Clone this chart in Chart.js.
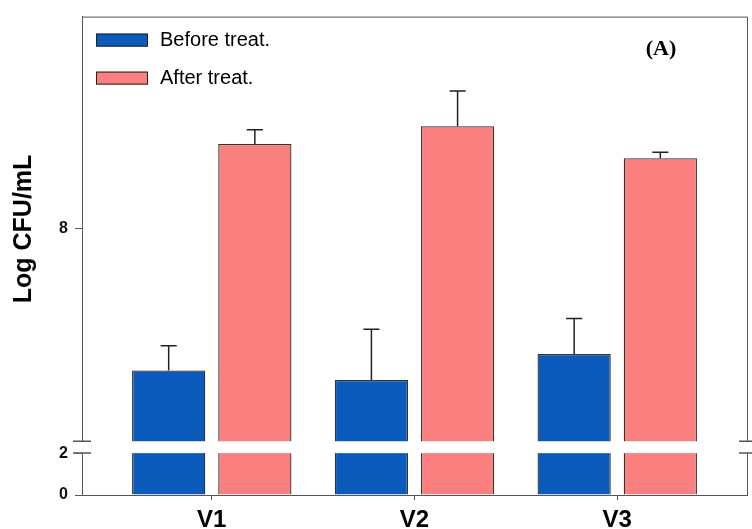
<!DOCTYPE html>
<html>
<head>
<meta charset="utf-8">
<script src="https://cdn.jsdelivr.net/npm/chart.js@4.4.1/dist/chart.umd.min.js"></script>
<style>
  html, body { margin: 0; padding: 0; background: #fff; }
</style>
</head>
<body>
<canvas id="cfuChart" width="752" height="529"></canvas>
<script>
// data (Log CFU/mL)
const categories = ['V1', 'V2', 'V3'];
const beforeTreat = [6.80, 6.72, 6.94];
const beforeErr = [0.21, 0.43, 0.30];
const afterTreat = [8.72, 8.87, 8.60];
const afterErr = [0.12, 0.30, 0.05];
const upperTicks = [8];
const lowerTicks = [0, 2];

const blue = '#0b5bbd';
const pink = '#fa8080';
const axisColor = '#555';

const toPoints = vals => vals.map((v, i) => ({ x: i, y: v }));

// the y axis is broken: same bars drawn on an upper and a lower scale
function barSet(label, vals, errs, color, axis, stack) {
  return {
    label: label,
    data: toPoints(vals),
    errors: errs,
    yAxisID: axis,
    stack: stack,
    backgroundColor: color,
    borderColor: '#333',
    borderWidth: 1.3,
    clip: 0
  };
}

const fixedWidth = w => scale => { scale.width = w; };

// error bars, frame, axis break, legend and panel tag
const decorations = {
  id: 'decorations',
  afterDatasetsDraw(chart) {
    const { ctx, chartArea: a, scales } = chart;
    ctx.save();

    // error whiskers (upper half only)
    ctx.strokeStyle = '#222';
    ctx.lineWidth = 1.5;
    chart.data.datasets.forEach((ds, di) => {
      if (ds.yAxisID !== 'yTop') return;
      const yScale = scales[ds.yAxisID];
      chart.getDatasetMeta(di).data.forEach((bar, i) => {
        const yErr = yScale.getPixelForValue(ds.data[i].y + ds.errors[i]);
        const cap = bar.width * 0.11;
        ctx.beginPath();
        ctx.moveTo(bar.x, bar.y);
        ctx.lineTo(bar.x, yErr);
        ctx.moveTo(bar.x - cap, yErr);
        ctx.lineTo(bar.x + cap, yErr);
        ctx.stroke();
      });
    });

    // top and right frame
    ctx.strokeStyle = axisColor;
    ctx.lineWidth = 1;
    ctx.beginPath();
    ctx.moveTo(a.left, a.top + 0.5);
    ctx.lineTo(a.right + 0.5, a.top + 0.5);
    ctx.lineTo(a.right + 0.5, a.bottom);
    ctx.stroke();

    // axis break
    const yB1 = scales.yTop.bottom;
    const yB2 = scales.yBot.getPixelForValue(2);
    ctx.fillStyle = '#fff';
    ctx.fillRect(a.left - 9, yB1, a.right - a.left + 20, yB2 - yB1);
    ctx.lineWidth = 1.5;
    ctx.beginPath();
    [yB1, yB2].forEach(y => {
      ctx.moveTo(a.left - 9, y); ctx.lineTo(a.left + 9, y);
      ctx.moveTo(a.right - 8, y); ctx.lineTo(a.right + 6, y);
    });
    ctx.stroke();

    // legend
    const items = chart.data.datasets.filter(ds => ds.yAxisID === 'yTop');
    ctx.font = '20px "Liberation Sans", Arial, sans-serif';
    ctx.textBaseline = 'middle';
    ctx.textAlign = 'left';
    items.forEach((ds, k) => {
      const x = a.left + 14, y = a.top + 17 + k * 38;
      ctx.fillStyle = ds.backgroundColor;
      ctx.fillRect(x, y, 52, 13);
      ctx.strokeStyle = '#222';
      ctx.lineWidth = 1;
      ctx.strokeRect(x + 0.5, y + 0.5, 51, 12);
      ctx.fillStyle = '#000';
      ctx.fillText(ds.label, x + 64, y + 7);
    });

    // panel tag
    ctx.font = 'bold 22px "Liberation Serif", "Times New Roman", serif';
    ctx.textAlign = 'center';
    ctx.fillStyle = '#000';
    ctx.fillText('(A)', a.right - 86, a.top + 33);

    ctx.restore();
  }
};

const tickFont = { family: '"Liberation Sans", Arial, sans-serif', size: 16, weight: 'bold' };

new Chart(document.getElementById('cfuChart'), {
  type: 'bar',
  data: {
    datasets: [
      barSet('Before treat.', beforeTreat, beforeErr, blue, 'yTop', 'before'),
      barSet('After treat.', afterTreat, afterErr, pink, 'yTop', 'after'),
      barSet('Before treat.', beforeTreat, beforeErr, blue, 'yBot', 'before'),
      barSet('After treat.', afterTreat, afterErr, pink, 'yBot', 'after')
    ]
  },
  options: {
    responsive: false,
    animation: false,
    categoryPercentage: 0.85,
    barPercentage: 0.85,
    layout: { padding: { top: 14, right: 5, left: 0, bottom: 0 } },
    scales: {
      x: {
        type: 'linear',
        min: -0.64,
        max: 2.64,
        offset: false,
        afterBuildTicks: s => { s.ticks = categories.map((c, i) => ({ value: i })); },
        afterFit: s => { s.height = 34; },
        grid: { offset: false, drawOnChartArea: false, drawTicks: true, tickLength: 5, color: axisColor },
        border: { display: true, color: axisColor, width: 1 },
        ticks: {
          callback: v => categories[v] ?? '',
          color: '#000',
          padding: 6,
          maxRotation: 0,
          font: { family: '"Liberation Sans", Arial, sans-serif', size: 24, weight: 'bold' }
        }
      },
      // lower segment listed first: left-side stacks are laid out last-to-first
      yBot: {
        type: 'linear',
        position: 'left',
        stack: 'y',
        stackWeight: 54,
        stacked: false,
        beginAtZero: false,
        min: 0,
        max: 2.565,
        afterBuildTicks: s => { s.ticks = lowerTicks.map(v => ({ value: v })); },
        afterFit: fixedWidth(82),
        grid: { drawOnChartArea: false, drawTicks: true, tickLength: 7, color: axisColor },
        border: { display: true, color: axisColor, width: 1 },
        ticks: { color: '#111', padding: 7, font: tickFont }
      },
      yTop: {
        type: 'linear',
        position: 'left',
        stack: 'y',
        stackWeight: 427,
        stacked: false,
        beginAtZero: false,
        min: 6.2,
        max: 9.8,
        afterBuildTicks: s => { s.ticks = upperTicks.map(v => ({ value: v })); },
        afterFit: fixedWidth(82),
        grid: { drawOnChartArea: false, drawTicks: true, tickLength: 7, color: axisColor },
        border: { display: true, color: axisColor, width: 1 },
        ticks: { color: '#111', padding: 7, font: tickFont },
        title: {
          display: true,
          text: 'Log CFU/mL',
          color: '#000',
          padding: { top: 9, bottom: 0 },
          font: { family: '"Liberation Sans", Arial, sans-serif', size: 25, weight: 'bold' }
        }
      }
    },
    plugins: {
      legend: { display: false },
      tooltip: { enabled: false }
    }
  },
  plugins: [decorations]
});
</script>
</body>
</html>
